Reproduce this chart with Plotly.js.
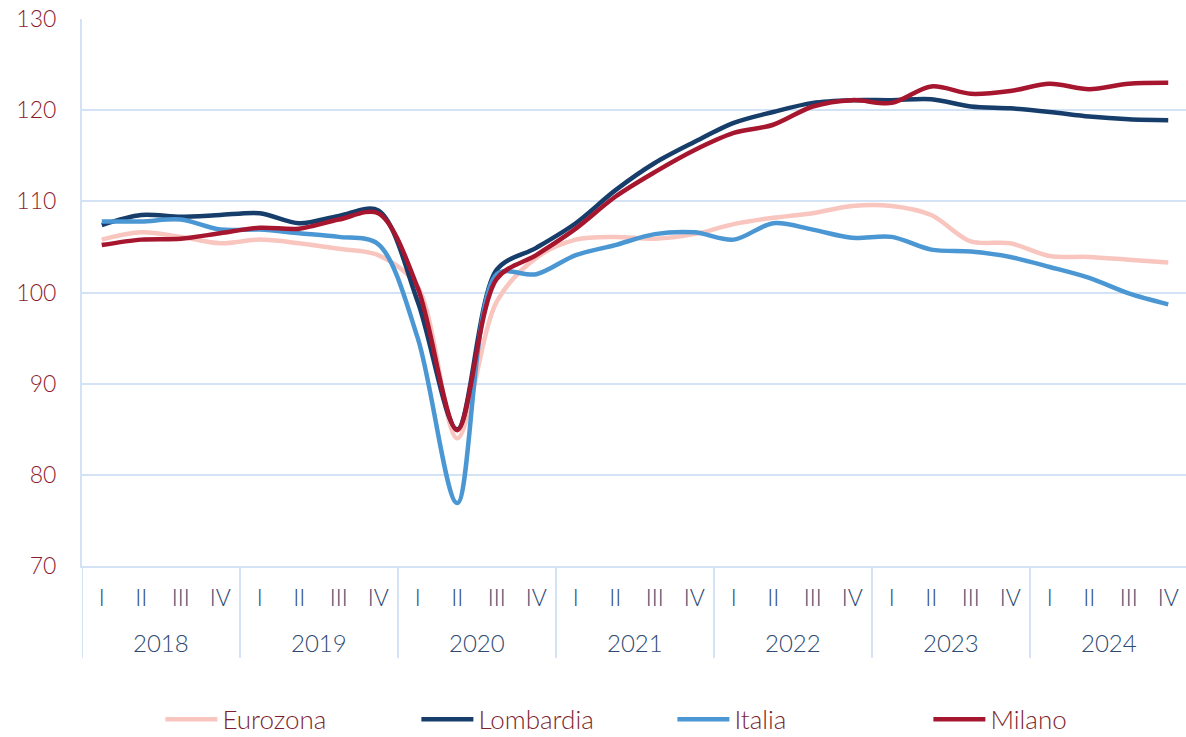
<!DOCTYPE html>
<html>
<head>
<meta charset="utf-8">
<script src="https://cdn.plot.ly/plotly-3.0.1.min.js"></script>
<style>
  html, body { margin: 0; padding: 0; background: #ffffff; }
  #chart { width: 1186px; height: 737px; }
</style>
</head>
<body>
<div id="chart"></div>
<script>
// Categories
const years = ['2018', '2019', '2020', '2021', '2022', '2023', '2024'];
const quarters = ['I', 'II', 'III', 'IV'];

// Series values (one per quarter, 2018 I .. 2024 IV)
const eurozona = [105.8, 106.6, 106.1, 105.4, 105.8, 105.4, 104.8, 104.1,
                  100.6, 84.0, 99.0, 103.8, 105.8, 106.1, 105.9, 106.4,
                  107.5, 108.2, 108.7, 109.5, 109.5, 108.5, 105.6, 105.4,
                  104.0, 103.9, 103.6, 103.3];
const lombardia = [107.4, 108.5, 108.3, 108.5, 108.7, 107.6, 108.4, 109.0,
                   99.0, 85.0, 102.5, 104.9, 107.6, 111.2, 114.2, 116.5,
                   118.6, 119.8, 120.8, 121.1, 121.1, 121.2, 120.4, 120.2,
                   119.8, 119.3, 119.0, 118.9];
const italia = [107.8, 107.8, 108.0, 106.9, 106.9, 106.5, 106.1, 105.3,
                95.0, 76.9, 102.0, 102.0, 104.1, 105.2, 106.4, 106.6,
                105.8, 107.6, 106.9, 106.0, 106.1, 104.7, 104.5, 103.9,
                102.8, 101.6, 99.9, 98.7];
const milano = [105.2, 105.8, 105.9, 106.5, 107.1, 107.0, 108.0, 108.7,
                100.5, 84.9, 101.5, 104.1, 107.0, 110.5, 113.2, 115.6,
                117.5, 118.4, 120.4, 121.1, 120.8, 122.6, 121.8, 122.1,
                122.9, 122.3, 122.9, 123.0];

const seriesNames = ['Eurozona', 'Lombardia', 'Italia', 'Milano'];
const seriesColors = ['#F8C5BF', '#173D6B', '#4A97D3', '#A6162E'];
const seriesValues = [eurozona, lombardia, italia, milano];

// Category positions (index) and quarter tick labels
const xIdx = [];
const xQuarter = [];
years.forEach((y, yi) => quarters.forEach((q, qi) => {
  xIdx.push(yi * quarters.length + qi);
  xQuarter.push(q);
}));

const FONT = 'Lato, "Open Sans", sans-serif';
const gridBlue = '#D3E3F5';
const nQ = quarters.length;

const traces = seriesNames.map((name, i) => ({
  type: 'scatter',
  mode: 'lines',
  name: name,
  x: xIdx,
  y: seriesValues[i],
  line: { color: seriesColors[i], width: 4.5, shape: 'spline', smoothing: 0.9 },
  hoverinfo: 'skip'
}));

// Year group labels (centred under each group) and group dividers
const yearAnnotations = years.map((y, yi) => ({
  x: yi * nQ + (nQ - 1) / 2, xref: 'x',
  y: -0.14, yref: 'paper', yanchor: 'middle',
  text: y, showarrow: false,
  font: { family: FONT, size: 24, color: '#2E4A74', weight: 300 }
}));
const dividers = [];
for (let k = 0; k <= years.length; k++) {
  dividers.push({
    type: 'line', xref: 'x', yref: 'paper',
    x0: k * nQ - 0.5, x1: k * nQ - 0.5, y0: 0, y1: -0.168,
    line: { color: gridBlue, width: 2 }, layer: 'below'
  });
}

const layout = {
  width: 1186,
  height: 737,
  margin: { l: 82, r: 0, t: 19, b: 171 },
  paper_bgcolor: '#ffffff',
  plot_bgcolor: '#ffffff',
  font: { family: FONT, size: 20, color: '#8C1D2F', weight: 300 },
  showlegend: true,
  legend: {
    orientation: 'h',
    x: 0.071, xanchor: 'left',
    yref: 'container', y: 0.024, yanchor: 'middle',
    font: { family: FONT, size: 26, color: '#7E1F2E', weight: 300 },
    entrywidth: 189, entrywidthmode: 'pixels',
    itemwidth: 52,
    traceorder: 'normal'
  },
  xaxis: {
    range: [-0.5, 27.45],
    tickmode: 'array',
    tickvals: xIdx,
    ticktext: xQuarter,
    showgrid: false,
    showline: true,
    linecolor: gridBlue,
    linewidth: 2,
    ticks: '',
    ticklabelstandoff: 10,
    tickfont: { family: FONT, size: 23, color: '#2E4A74', weight: 300 },
    zeroline: false
  },
  yaxis: {
    range: [70, 130],
    dtick: 10,
    tick0: 70,
    showgrid: true,
    gridcolor: gridBlue,
    gridwidth: 2,
    showline: true,
    linecolor: gridBlue,
    linewidth: 2,
    ticks: '',
    ticklabelstandoff: 19,
    tickfont: { family: FONT, size: 23, color: '#8C1D2F', weight: 300 },
    zeroline: false
  },
  annotations: yearAnnotations,
  shapes: dividers
};

Plotly.newPlot('chart', traces, layout, { displayModeBar: false, staticPlot: true });
</script>
</body>
</html>
